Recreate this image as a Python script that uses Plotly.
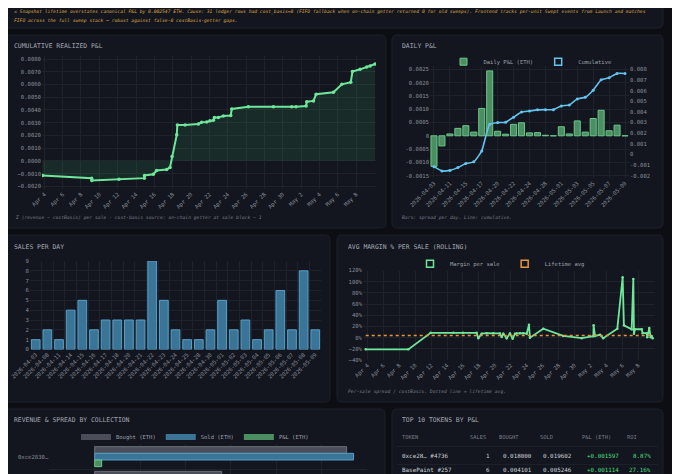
import plotly.graph_objects as go

W, H = 680, 474
OFF = 8  # the page body offsets the figure by 8px; layout below is in window pixels

# ---------------- data ----------------
CUM_TIMES = [
    "2026-04-03 19:41", "2026-04-09 03:50", "2026-04-09 04:19", "2026-04-12 03:36",
    "2026-04-14 21:50", "2026-04-14 22:19", "2026-04-15 21:22", "2026-04-16 06:00",
    "2026-04-17 08:24", "2026-04-17 17:02", "2026-04-17 22:19", "2026-04-18 10:34",
    "2026-04-18 12:14", "2026-04-19 08:24", "2026-04-20 19:12", "2026-04-21 03:50",
    "2026-04-21 17:02", "2026-04-22 01:41", "2026-04-22 10:34", "2026-04-22 13:12",
    "2026-04-22 23:31", "2026-04-23 12:43", "2026-04-24 07:55", "2026-04-24 10:34",
    "2026-04-26 06:00", "2026-04-28 23:31", "2026-04-30 23:31", "2026-05-01 10:48",
    "2026-05-02 13:12", "2026-05-02 14:53", "2026-05-03 08:24", "2026-05-03 15:22",
    "2026-05-05 12:43", "2026-05-06 10:34", "2026-05-07 10:05", "2026-05-07 14:24",
    "2026-05-08 10:34", "2026-05-09 03:50", "2026-05-09 12:43", "2026-05-10 01:41",
]
CUM_PNL = [
    -0.00115, -0.00136, -0.00154, -0.00144,
    -0.00136, -0.00115, -0.00105, -0.00076,
    -0.00068, -0.00052, 0.00034, 0.00204,
    0.00282, 0.00282, 0.00290, 0.00303,
    0.00305, 0.00314, 0.00319, 0.00340,
    0.00340, 0.00353, 0.00356, 0.00408,
    0.00424, 0.00424, 0.00424, 0.00424,
    0.00431, 0.00465, 0.00471, 0.00523,
    0.00539, 0.00601, 0.00617, 0.00701,
    0.00719, 0.00737, 0.00745, 0.00761,
]
DATE_TICKS = [
    "2026-04-04", "2026-04-06", "2026-04-08", "2026-04-10", "2026-04-12", "2026-04-14",
    "2026-04-16", "2026-04-18", "2026-04-20", "2026-04-22", "2026-04-24", "2026-04-26",
    "2026-04-28", "2026-04-30", "2026-05-02", "2026-05-04", "2026-05-06", "2026-05-08",
]

DAYS = [
    "2026-04-03", "2026-04-08", "2026-04-11", "2026-04-14", "2026-04-15",
    "2026-04-16", "2026-04-17", "2026-04-18", "2026-04-20", "2026-04-21",
    "2026-04-22", "2026-04-23", "2026-04-24", "2026-04-25", "2026-04-28",
    "2026-04-30", "2026-05-01", "2026-05-02", "2026-05-03", "2026-05-04",
    "2026-05-05", "2026-05-06", "2026-05-07", "2026-05-08", "2026-05-09",
]
DAILY_PNL = [
    -0.00115, -0.00038, 0.00007, 0.00028, 0.00038,
    0.00014, 0.00103, 0.00244, 0.00017, 0.00006,
    0.00043, 0.00049, 0.00011, 0.00012, 0.00002,
    0.0, 0.00034, 0.00007, 0.00056, 0.00014,
    0.00065, 0.00096, 0.00019, 0.00040, 0.0,
]
DAILY_CUM = [
    -0.00115, -0.00155, -0.00150, -0.00124, -0.00086,
    -0.00070, 0.00033, 0.00283, 0.00299, 0.00303,
    0.00350, 0.00399, 0.00408, 0.00419, 0.00421,
    0.00421, 0.00456, 0.00464, 0.00522, 0.00537,
    0.00603, 0.00701, 0.00721, 0.00761, 0.00761,
]
DAILY_LEFT_TICKS = [-0.0015, -0.001, -0.0005, 0, 0.0005, 0.001, 0.0015, 0.002, 0.0025]
DAILY_LEFT_TEXT = ["-0.0015", "-0.0010", "-0.0005", "0", "0.0005", "0.0010", "0.0015", "0.0020", "0.0025"]
DAILY_RIGHT_TICKS = [-0.002, -0.001, 0, 0.001, 0.002, 0.003, 0.004, 0.005, 0.006, 0.007, 0.008]
DAILY_RIGHT_TEXT = ["-0.002", "-0.001", "0", "0.001", "0.002", "0.003", "0.004", "0.005", "0.006", "0.007", "0.008"]

SALES = [1, 2, 1, 4, 5, 2, 3, 3, 3, 3, 9, 5, 2, 1, 1, 2, 5, 2, 3, 1, 2, 6, 2, 8, 2]

MARGIN_TIMES = [
    "2026-04-03 19:12", "2026-04-09 03:36", "2026-04-11 22:48", "2026-04-14 19:12",
    "2026-04-16 00:00", "2026-04-17 17:17", "2026-04-17 22:19", "2026-04-18 08:24",
    "2026-04-18 23:31", "2026-04-19 19:26", "2026-04-20 15:36", "2026-04-20 20:38",
    "2026-04-21 01:41", "2026-04-21 11:46", "2026-04-21 21:36", "2026-04-22 05:46",
    "2026-04-22 12:43", "2026-04-22 17:46", "2026-04-23 03:50", "2026-04-23 13:41",
    "2026-04-24 00:00", "2026-04-24 06:58", "2026-04-24 09:50", "2026-04-26 01:55",
    "2026-04-28 14:10", "2026-04-30 21:36", "2026-05-02 08:38", "2026-05-02 09:36",
    "2026-05-02 13:41", "2026-05-03 04:48", "2026-05-03 14:24", "2026-05-05 08:53",
    "2026-05-06 00:58", "2026-05-06 04:48", "2026-05-07 04:05", "2026-05-07 09:07",
    "2026-05-07 11:02", "2026-05-07 14:10", "2026-05-08 10:19", "2026-05-08 13:12",
    "2026-05-09 01:12", "2026-05-09 03:07", "2026-05-09 09:07", "2026-05-09 13:26",
    "2026-05-09 16:19", "2026-05-09 19:12",
]
MARGIN_PCT = [
    -21, -21, 8.5, 8.5,
    8.5, 8.5, -1, 7,
    8, 8, 7.5, 1,
    7, -1, 7.5, -2,
    7, 7.5, 8, 8,
    7, 23, 0, 16,
    3, -1, 2.5, 22,
    3, 5, -1, 16,
    108, 22, 15, 105,
    7, 15, 15, 8,
    8, 0.5, 17, 0.5,
    3, -1,
]
LIFETIME_AVG_PCT = 4.0

COLLECTIONS = ["0xce2830…", "BasePaint"]
COLL_BOUGHT = [0.02775, 0.01399]
COLL_SOLD = [0.02852, 0.01660]
COLL_PNL = [0.00077, 0.00261]

TABLE_HEADERS = ["TOKEN", "SALES", "BOUGHT", "SOLD", "P&L (ETH)", "ROI"]
TOP_TOKENS = ["0xce28… #4736", "BasePaint #257"]
TOP_SALES = [1, 6]
TOP_BOUGHT = [0.018000, 0.004101]
TOP_SOLD = [0.019602, 0.005246]
TOP_PNL = [0.001597, 0.001114]
TOP_ROI = [8.87, 27.16]

BANNER_LINES = [
    "⚠ Snapshot lifetime overstates canonical P&L by 0.002547 ETH. Cause: 31 ledger rows had cost_basis=0 "
    "(FIFO fallback when on-chain getter returned 0 for old sweeps). Frontend tracks per-unit Swept events from Launch and matches",
    "FIFO across the full sweep stack — robust against false-0 costBasis-getter gaps.",
]

# ---------------- style ----------------
MONO = "DejaVu Sans Mono"
PAGE_BG = "#0c0e13"
PANEL_BG = "#13161e"
PANEL_BORDER = "#1c2029"
GRID_C = "#1e222b"
TICK_C = "#868d99"
TITLE_C = "#a2a8b3"
NOTE_C = "#737a86"
WARN_C = "#d9a441"
LINE_GREEN = "#6ee79a"
FILL_GREEN = "rgba(74,222,128,0.11)"
BAR_GREEN = "#4a8e62"
BAR_GREEN_EDGE = "#6cc78b"
LINE_BLUE = "#63c5ef"
BAR_BLUE = "#3a7598"
BAR_BLUE_EDGE = "#5a9ec6"
BAR_GRAY = "#4a4e58"
BAR_GRAY_EDGE = "#6b707b"
ORANGE = "#e8963a"
TEXT_C = "#cdd2da"
POS_C = "#4ade80"
LEG_C = "#9aa1ac"


def px(x):
    return (x - OFF) / W


def py(y):
    return 1 - (y - OFF) / H


TICKF = dict(family=MONO, size=5.6, color=TICK_C)
LEGF = dict(family=MONO, size=5.5, color=LEG_C)


def axis(**kw):
    d = dict(showgrid=True, gridcolor=GRID_C, gridwidth=1, zeroline=False,
             showline=False, ticks="", tickfont=TICKF, automargin=False)
    d.update(kw)
    return d


fig = go.Figure()

# 1. cumulative realized P&L
fig.add_trace(go.Scatter(
    x=CUM_TIMES, y=CUM_PNL, mode="lines+markers",
    line=dict(color=LINE_GREEN, width=2), marker=dict(size=3.5, color=LINE_GREEN),
    fill="tozeroy", fillcolor=FILL_GREEN, xaxis="x", yaxis="y", showlegend=False))

# 2. daily P&L
fig.add_trace(go.Bar(
    x=DAYS, y=DAILY_PNL, width=0.76,
    marker=dict(color=BAR_GREEN, line=dict(color=BAR_GREEN_EDGE, width=1)),
    xaxis="x2", yaxis="y2", showlegend=False))
fig.add_trace(go.Scatter(
    x=DAYS, y=DAILY_CUM, mode="lines+markers",
    line=dict(color=LINE_BLUE, width=1.6, shape="spline", smoothing=0.5),
    marker=dict(size=3, color=LINE_BLUE), xaxis="x2", yaxis="y3", showlegend=False))
fig.add_trace(go.Scatter(
    x=[None], y=[None], mode="markers", name="Daily P&L (ETH)", legend="legend",
    marker=dict(symbol="square", size=7, color=BAR_GREEN, line=dict(color=BAR_GREEN_EDGE, width=1)),
    xaxis="x2", yaxis="y2"))
fig.add_trace(go.Scatter(
    x=[None], y=[None], mode="markers", name="Cumulative", legend="legend",
    marker=dict(symbol="square", size=7, color=PANEL_BG, line=dict(color=LINE_BLUE, width=1.5)),
    xaxis="x2", yaxis="y2"))

# 3. sales per day
fig.add_trace(go.Bar(
    x=DAYS, y=SALES, width=0.75,
    marker=dict(color=BAR_BLUE, line=dict(color=BAR_BLUE_EDGE, width=1)),
    xaxis="x3", yaxis="y4", showlegend=False))

# 4. margin per sale
fig.add_trace(go.Scatter(
    x=MARGIN_TIMES, y=MARGIN_PCT, mode="lines+markers",
    line=dict(color=LINE_GREEN, width=1.8), marker=dict(size=2.5, color=LINE_GREEN),
    xaxis="x4", yaxis="y5", showlegend=False))
fig.add_trace(go.Scatter(
    x=[MARGIN_TIMES[0], MARGIN_TIMES[-1]], y=[LIFETIME_AVG_PCT, LIFETIME_AVG_PCT],
    mode="lines", line=dict(color=ORANGE, width=1.5, dash="dot"),
    xaxis="x4", yaxis="y5", showlegend=False))
fig.add_trace(go.Scatter(
    x=[None], y=[None], mode="markers", name="Margin per sale", legend="legend2",
    marker=dict(symbol="square", size=7, color=PANEL_BG, line=dict(color=LINE_GREEN, width=1.5)),
    xaxis="x4", yaxis="y5"))
fig.add_trace(go.Scatter(
    x=[None], y=[None], mode="markers", name="Lifetime avg", legend="legend2",
    marker=dict(symbol="square", size=7, color=PANEL_BG, line=dict(color=ORANGE, width=1.5)),
    xaxis="x4", yaxis="y5"))

# 5. revenue & spread by collection
for name, vals, fc, ec in [("Bought (ETH)", COLL_BOUGHT, BAR_GRAY, BAR_GRAY_EDGE),
                           ("Sold (ETH)", COLL_SOLD, BAR_BLUE, BAR_BLUE_EDGE),
                           ("P&L (ETH)", COLL_PNL, BAR_GREEN, BAR_GREEN_EDGE)]:
    fig.add_trace(go.Bar(
        y=COLLECTIONS, x=vals, orientation="h", name=name,
        marker=dict(color=fc, line=dict(color=ec, width=1)),
        xaxis="x5", yaxis="y6", showlegend=False))
    fig.add_trace(go.Scatter(
        x=[None], y=[None], mode="lines", name=name, legend="legend3",
        line=dict(color=fc, width=6), xaxis="x5", yaxis="y6"))

# ---------------- axes ----------------
fig.update_layout(
    template="none",
    xaxis=axis(domain=[px(42), px(376)], type="date", anchor="y",
               range=["2026-04-03 18:00", "2026-05-10 04:05"],
               tickmode="array", tickvals=DATE_TICKS, tickformat="%b %-d", tickangle=-45),
    yaxis=axis(domain=[py(189), py(56)], anchor="x", range=[-0.002212, 0.008236],
               dtick=0.001, tick0=0, tickformat=".4f"),
    xaxis2=axis(domain=[px(430), px(629)], type="category", anchor="y2",
                tickmode="linear", tick0=0, dtick=2, tickangle=-45, range=[-0.5, 24.5]),
    yaxis2=axis(domain=[py(178), py(66)], anchor="x2", range=[-0.001586, 0.002624],
                tickmode="array", tickvals=DAILY_LEFT_TICKS, ticktext=DAILY_LEFT_TEXT),
    yaxis3=axis(overlaying="y2", side="right", anchor="x2", range=[-0.002216, 0.00831],
                tickmode="array", tickvals=DAILY_RIGHT_TICKS, ticktext=DAILY_RIGHT_TEXT,
                showgrid=False),
    xaxis3=axis(domain=[px(29.9), px(321.1)], type="category", anchor="y4",
                tickmode="linear", tick0=0, dtick=1, tickangle=-45, tickson="boundaries",
                range=[-0.5, 24.5]),
    yaxis4=axis(domain=[py(349.5), py(261)], anchor="x3", range=[0, 9], dtick=1),
    xaxis4=axis(domain=[px(363), px(655)], type="date", anchor="y5",
                range=["2026-04-03 11:03", "2026-05-10 02:24"],
                tickmode="array", tickvals=DATE_TICKS, tickformat="%b %-d", tickangle=-45),
    yaxis5=axis(domain=[py(360), py(270.5)], anchor="x4", range=[-40, 120], dtick=20,
                ticksuffix="%"),
    xaxis5=axis(domain=[px(49.3), px(367)], anchor="y6", range=[-0.005, 0.03],
                dtick=0.005, showticklabels=False),
    yaxis6=axis(domain=[0, py(444.3)], anchor="x5", type="category",
                range=[1.026, -0.5], tickson="boundaries",
                tickmode="array", tickvals=COLLECTIONS[:1]),
    barmode="group", bargap=0.19, bargroupgap=0,
)

# ---------------- legends ----------------
leg_common = dict(orientation="h", xanchor="center", yanchor="middle", font=LEGF,
                  bgcolor="rgba(0,0,0,0)", itemwidth=30, itemclick=False)
fig.update_layout(
    legend=dict(x=px(530), y=py(61.7), **leg_common),
    legend2=dict(x=px(500), y=py(263.7), **leg_common),
    legend3=dict(x=px(195), y=py(437), **leg_common),
)


# ---------------- panels ----------------
def rrect(x0, y0, x1, y1, r=5):
    rx, ry = r / W, r / H
    X0, X1, Y0, Y1 = px(x0), px(x1), py(y0), py(y1)
    return (f"M {X0 + rx},{Y0} L {X1 - rx},{Y0} Q {X1},{Y0} {X1},{Y0 - ry} "
            f"L {X1},{Y1 + ry} Q {X1},{Y1} {X1 - rx},{Y1} L {X0 + rx},{Y1} "
            f"Q {X0},{Y1} {X0},{Y1 + ry} L {X0},{Y0 - ry} Q {X0},{Y0} {X0 + rx},{Y0} Z")


PANELS = [(4, -20, 663, 28), (4, 35, 386, 228), (392, 35, 663, 228),
          (4, 235, 330, 402), (337, 235, 663, 402), (4, 409, 385, 500), (392, 409, 663, 500)]
shapes = []
for (a, b, c, d) in PANELS:
    shapes.append(dict(type="path", path=rrect(a, b, c, d), xref="paper", yref="paper",
                       fillcolor=PANEL_BG, line=dict(color=PANEL_BORDER, width=1), layer="below"))
for ysep in (446.5, 464.5):
    shapes.append(dict(type="line", xref="paper", yref="paper", x0=px(397), x1=px(658),
                       y0=py(ysep), y1=py(ysep), line=dict(color="#1c2029", width=1), layer="below"))

# ---------------- annotations ----------------
ann = []


def text(x, y, s, size, color, anchor="left", italic=False):
    ann.append(dict(x=px(x), y=py(y), xref="paper", yref="paper", text=s, showarrow=False,
                    xanchor=anchor, yanchor="middle",
                    font=dict(family=MONO, size=size, color=color,
                              style="italic" if italic else "normal")))


text(12, 12, BANNER_LINES[0], 4.65, WARN_C, italic=True)
text(12, 20.5, BANNER_LINES[1], 4.65, WARN_C, italic=True)

for (x, y, s) in [(12, 45.7, "CUMULATIVE REALIZED P&L"), (400.5, 45.7, "DAILY P&L"),
                  (12, 246.7, "SALES PER DAY"), (346, 246.7, "AVG MARGIN % PER SALE (ROLLING)"),
                  (12, 420, "REVENUE & SPREAD BY COLLECTION"), (400.5, 420, "TOP 10 TOKENS BY P&L")]:
    text(x, y, s, 6.4, TITLE_C)

text(12.5, 218, "Σ (revenue − costBasis) per sale · cost-basis source: on-chain getter at sale block − 1",
     4.7, NOTE_C, italic=True)
text(400.3, 217.7, "Bars: spread per day. Line: cumulative.", 4.7, NOTE_C, italic=True)
text(346, 391.3, "Per-sale spread / costBasis. Dotted line = lifetime avg.", 4.7, NOTE_C, italic=True)

# table
HEAD_X = [400, 468, 497, 538, 580, 625]
VAL_X = [400, 492, 534, 574, 621, 653]
VAL_ANCHOR = ["left", "right", "right", "right", "right", "right"]
HEAD_Y = 437
ROW_Y = [456.2, 470]
for hx, h in zip(HEAD_X, TABLE_HEADERS):
    text(hx, HEAD_Y, h, 5.4, "#767d89")
for i in range(len(TOP_TOKENS)):
    cells = [TOP_TOKENS[i], f"{TOP_SALES[i]}", f"{TOP_BOUGHT[i]:.6f}", f"{TOP_SOLD[i]:.6f}",
             f"+{TOP_PNL[i]:.6f}", f"{TOP_ROI[i]:.2f}%"]
    colors = [TEXT_C, TEXT_C, TEXT_C, TEXT_C, POS_C, POS_C]
    for j, c in enumerate(cells):
        text(VAL_X[j], ROW_Y[i], c, 5.9, colors[j], anchor=VAL_ANCHOR[j])

fig.update_layout(
    width=W, height=H, autosize=False,
    margin=dict(l=0, r=0, t=0, b=0, pad=0),
    paper_bgcolor=PAGE_BG, plot_bgcolor="rgba(0,0,0,0)",
    shapes=shapes, annotations=ann,
    font=dict(family=MONO, color=TICK_C),
)

fig.write_html("out.html")
